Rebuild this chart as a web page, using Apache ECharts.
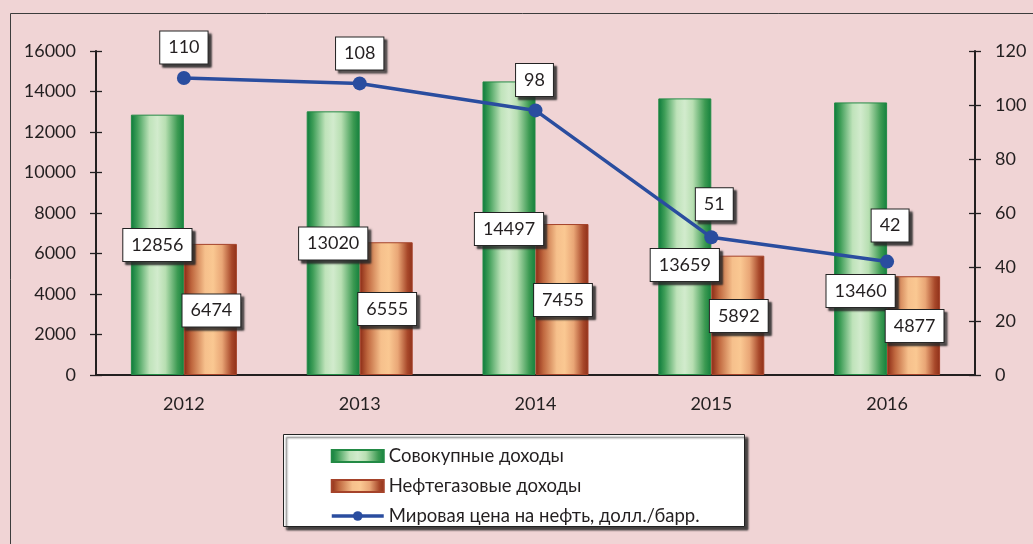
<!DOCTYPE html>
<html>
<head>
<meta charset="utf-8">
<script src="https://cdn.jsdelivr.net/npm/echarts@6/dist/echarts.min.js"></script>
<style>
    html, body { margin: 0; padding: 0; background: #f0d4d5; }
    #chart { width: 1033px; height: 544px; }
</style>
</head>
<body>
<div id="chart"></div>
<script>
// данные графика
var years = ['2012', '2013', '2014', '2015', '2016'];
var totalIncome = [12856, 13020, 14497, 13659, 13460];   // Совокупные доходы
var oilGasIncome = [6474, 6555, 7455, 5892, 4877];       // Нефтегазовые доходы
var oilPrice = [110, 108, 98, 51, 42];                    // цена на нефть
var seriesNames = ['Совокупные доходы', 'Нефтегазовые доходы', 'Мировая цена на нефть, долл./барр.'];

// шкалы осей
var leftMax = 16000, leftStep = 2000;
var rightMax = 120, rightStep = 20;

// раскладка подписей (пиксели), как в оригинале
var totalLabelDy = [-114, -115.5, -130, -94, -68];
var oilGasLabelDy = [-48.5, -50, -59, -43, -33];
var priceLabelDist = [7.5, 7, 7.5, 10, 13];
var priceLabelDx = [0, 0, -1, 3, 3];

var FONT = 'Lato';
var TEXT = '#231f20';
var LINE_BLUE = '#2a4d9f';

var boxLabel = {
    show: true,
    fontFamily: FONT,
    fontSize: 18,
    lineHeight: 20,
    color: TEXT,
    backgroundColor: '#ffffff',
    borderColor: '#222',
    borderWidth: 1,
    padding: [6, 8, 6, 8],
    shadowColor: 'rgba(40,40,40,0.85)',
    shadowBlur: 2,
    shadowOffsetX: 3,
    shadowOffsetY: 3
};

function withLabel(values, extra) {
    return values.map(function (v, i) {
        return { value: v, label: extra(i) };
    });
}

var greenFill = new echarts.graphic.LinearGradient(0, 0, 1, 0, [
    { offset: 0, color: '#0b7a3a' },
    { offset: 0.12, color: '#3f9e58' },
    { offset: 0.35, color: '#bfe3ba' },
    { offset: 0.5, color: '#d2ebcd' },
    { offset: 0.65, color: '#b8dfb2' },
    { offset: 0.88, color: '#3c9a52' },
    { offset: 1, color: '#13803c' }
]);
var orangeFill = new echarts.graphic.LinearGradient(0, 0, 1, 0, [
    { offset: 0, color: '#8a2914' },
    { offset: 0.15, color: '#c0683f' },
    { offset: 0.4, color: '#f6c08c' },
    { offset: 0.55, color: '#fac892' },
    { offset: 0.72, color: '#e9a676' },
    { offset: 0.9, color: '#a8482a' },
    { offset: 1, color: '#8e2f18' }
]);

var axisLineStyle = { color: TEXT, width: 2 };
var tickStyle = { color: TEXT, width: 1.3 };
var axisFont = { fontFamily: FONT, fontSize: 18, color: TEXT };
var plain = function (v) { return String(v); };

var chart = echarts.init(document.getElementById('chart'));
var option = {
    backgroundColor: '#f0d4d5',
    animation: false,
    grid: { left: 96, right: 58, top: 51, bottom: 169 },
    graphic: [
        {   // внешняя рамка
            type: 'rect', left: 8, top: 11, z: -10,
            shape: { width: 1100, height: 600 },
            style: { fill: 'none', stroke: '#3c3c3c', lineWidth: 1 }
        },
        {   // рамка легенды
            type: 'rect', left: 283, top: 434, z: 0,
            shape: { width: 461, height: 92 },
            style: {
                fill: '#ffffff', stroke: '#222', lineWidth: 1,
                shadowColor: 'rgba(40,40,40,0.85)', shadowBlur: 2, shadowOffsetX: 3, shadowOffsetY: 3
            }
        }
    ],
    legend: {
        orient: 'vertical',
        left: 325,
        top: 441,
        z: 10,
        itemWidth: 52,
        itemHeight: 12,
        itemGap: 10,
        textStyle: { fontFamily: FONT, fontSize: 18.5, lineHeight: 20, color: TEXT },
        data: [
            { name: seriesNames[0], icon: 'rect' },
            { name: seriesNames[1], icon: 'rect' },
            { name: seriesNames[2], lineStyle: { width: 3.5, color: LINE_BLUE } }
        ]
    },
    xAxis: [{
        type: 'category',
        position: 'bottom',
        data: years,
        axisLine: { lineStyle: axisLineStyle },
        axisTick: { length: 6, lineStyle: tickStyle },
        axisLabel: Object.assign({ margin: 20 }, axisFont)
    }, {
        type: 'category',
        position: 'bottom',
        data: years,
        axisLine: { show: false },
        axisTick: { inside: true, length: 6, lineStyle: tickStyle },
        axisLabel: { show: false }
    }],
    yAxis: [{
        type: 'value', position: 'left',
        min: 0, max: leftMax, interval: leftStep,
        splitLine: { show: false },
        axisLine: { show: true, lineStyle: axisLineStyle },
        axisTick: { show: true, length: 6, lineStyle: tickStyle },
        axisLabel: Object.assign({ margin: 20, formatter: plain }, axisFont)
    }, {
        type: 'value', position: 'right',
        min: 0, max: rightMax, interval: rightStep,
        splitLine: { show: false },
        axisLine: { show: true, lineStyle: axisLineStyle },
        axisTick: { show: true, length: 6, lineStyle: tickStyle },
        axisLabel: Object.assign({ margin: 20, formatter: plain }, axisFont)
    }, {
        type: 'value', position: 'left',
        min: 0, max: leftMax, interval: leftStep,
        splitLine: { show: false },
        axisLine: { show: false },
        axisTick: { show: true, inside: true, length: 6, lineStyle: tickStyle },
        axisLabel: { show: false }
    }, {
        type: 'value', position: 'right',
        min: 0, max: rightMax, interval: rightStep,
        splitLine: { show: false },
        axisLine: { show: false },
        axisTick: { show: true, inside: true, length: 6, lineStyle: tickStyle },
        axisLabel: { show: false }
    }],
    series: [{
        name: seriesNames[0],
        type: 'bar',
        yAxisIndex: 0,
        barWidth: 53,
        barGap: '0%',
        z: 2,
        itemStyle: { color: greenFill, borderColor: '#238a45', borderWidth: 1 },
        label: Object.assign({ position: 'insideBottom', distance: 0 }, boxLabel),
        data: withLabel(totalIncome, function (i) { return { offset: [0, totalLabelDy[i]] }; })
    }, {
        name: seriesNames[1],
        type: 'bar',
        yAxisIndex: 0,
        barWidth: 53,
        barGap: '0%',
        z: 2,
        itemStyle: { color: orangeFill, borderColor: '#a5432a', borderWidth: 1 },
        label: Object.assign({ position: 'insideBottom', distance: 0 }, boxLabel),
        data: withLabel(oilGasIncome, function (i) { return { offset: [1, oilGasLabelDy[i]] }; })
    }, {
        name: seriesNames[2],
        type: 'line',
        yAxisIndex: 1,
        z: 5,
        symbol: 'circle',
        symbolSize: 14,
        lineStyle: { color: LINE_BLUE, width: 3.5 },
        itemStyle: { color: LINE_BLUE },
        label: Object.assign({ position: 'top' }, boxLabel),
        data: withLabel(oilPrice, function (i) {
            return { distance: priceLabelDist[i], offset: [priceLabelDx[i], 0] };
        })
    }]
};
chart.setOption(option);
</script>
</body>
</html>
